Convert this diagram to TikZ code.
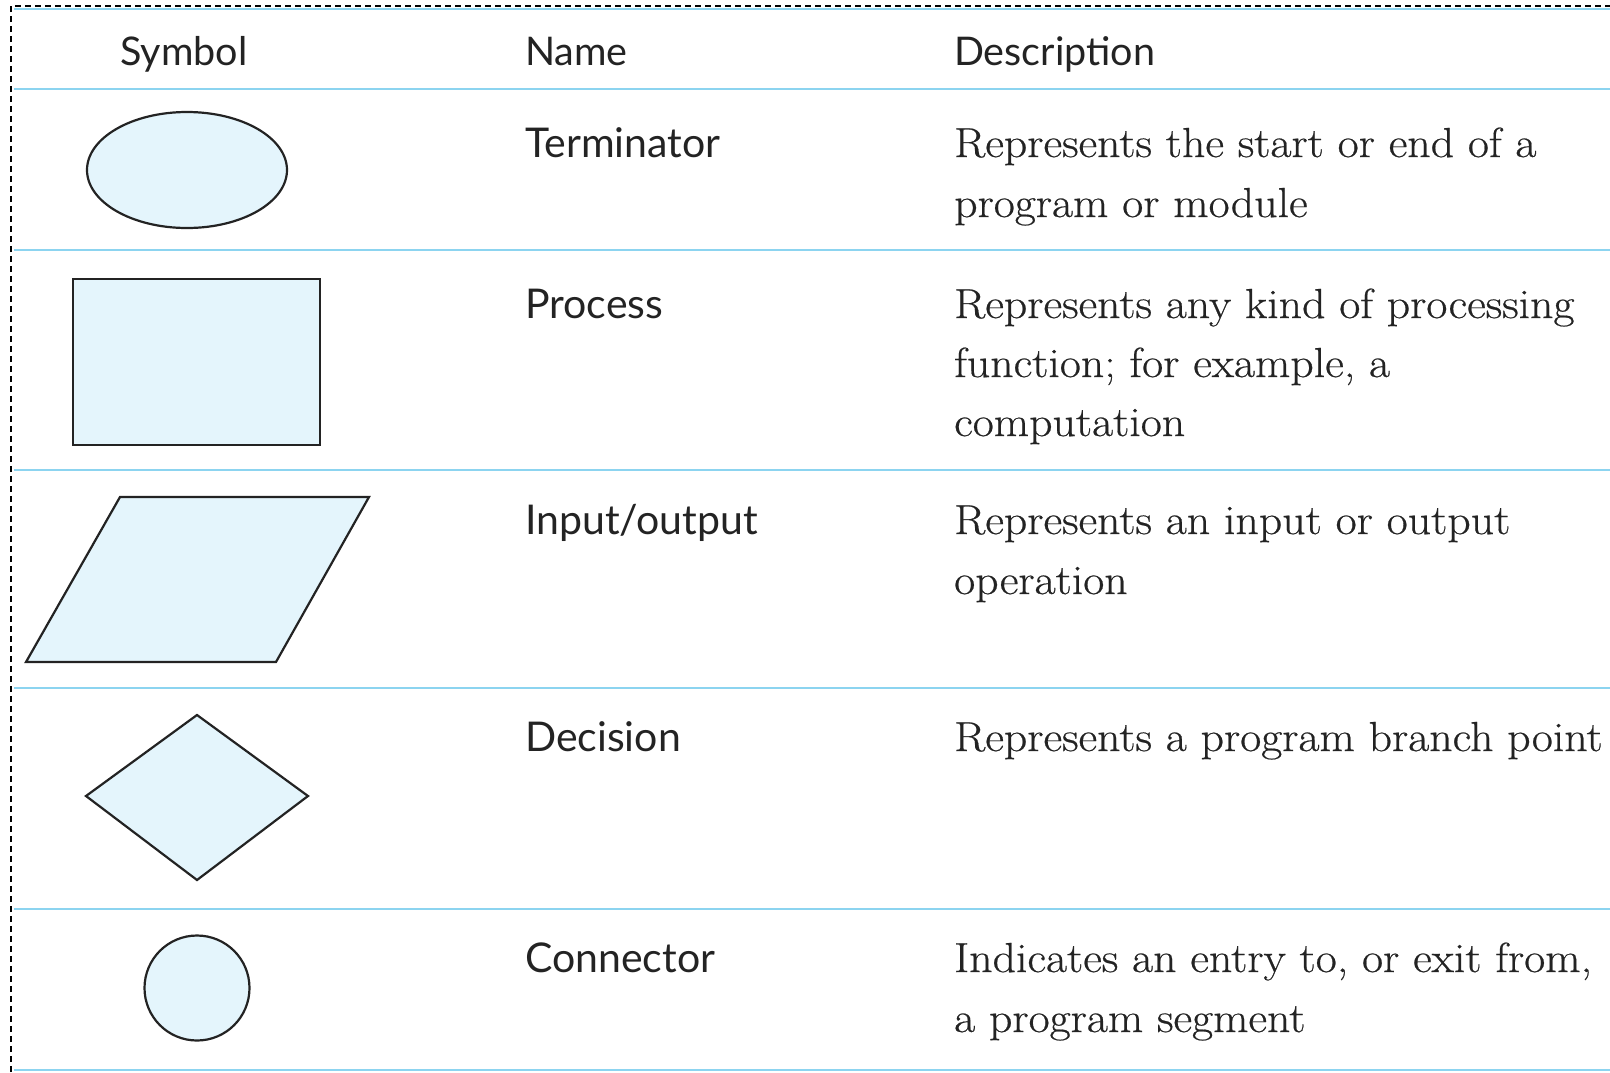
\documentclass[tikz,border=0pt]{standalone}
\usepackage{fontspec}
\newfontfamily\hdfont{Lato}
\newfontfamily\descfont{Latin Modern Roman}[FakeStretch=1.09, FakeBold=0.5]
\usetikzlibrary{shapes.geometric}
\definecolor{rule}{RGB}{140,212,240}
\definecolor{shapefill}{RGB}{228,245,252}
\definecolor{ink}{RGB}{35,35,35}
\tikzset{
  symshape/.style={draw=ink, line width=2.2pt, fill=shapefill, inner sep=0pt},
  rowrule/.style={draw=rule, line width=2.2pt},
  hdtext/.style={anchor=base west, inner sep=0pt, text=ink, font=\hdfont\fontsize{39.5}{44}\selectfont},
  nametext/.style={anchor=base west, inner sep=0pt, text=ink, font=\hdfont\fontsize{41}{44}\selectfont},
  desctext/.style={anchor=base west, inner sep=0pt, text=ink, font=\descfont\fontsize{42}{60}\selectfont},
  frame/.style={draw=black, line width=1.6pt, dash pattern=on 6pt off 4pt}
}
\begin{document}
\begin{tikzpicture}[x=1pt,y=-1pt]
\useasboundingbox (0,0) rectangle (1610,1072);
% dashed frame (top and left)
\coordinate (fl) at (11,1072);
\coordinate (fc) at (11,6);
\coordinate (fr) at (1610,6);
\draw[frame] (fl) -- (fc) -- (fr);
% horizontal rules
\foreach \yy/\nm in {9/r0,89/r1,250/r2,470/r3,688/r4,909/r5,1070/r6}{
  \coordinate (\nm a) at (14,\yy);
  \coordinate (\nm b) at (1610,\yy);
  \draw[rowrule] (\nm a) -- (\nm b);
}
% headers
\node[hdtext] (hsym) at (120,65) {Symbol};
\node[hdtext] (hname) at (525,65) {Name};
\node[hdtext] (hdesc) at (954,65) {Description};
% shapes
\node[symshape, ellipse, minimum width=200pt, minimum height=116pt] (term) at (187,170) {};
\node[symshape, rectangle, minimum width=247pt, minimum height=166pt] (proc) at (196.5,362) {};
\coordinate (p1) at (120,497);
\coordinate (p2) at (369,497);
\coordinate (p3) at (276,662);
\coordinate (p4) at (26,662);
\draw[symshape, line join=miter] (p1) -- (p2) -- (p3) -- (p4) -- cycle;
\coordinate (d1) at (197,715);
\coordinate (d2) at (308,796);
\coordinate (d3) at (197,880);
\coordinate (d4) at (86,796);
\draw[symshape, line join=miter] (d1) -- (d2) -- (d3) -- (d4) -- cycle;
\node[symshape, circle, minimum size=105pt] (conn) at (197,988) {};
% names
\node[nametext] (n1) at (525,157) {Terminator};
\node[nametext] (n2) at (525,318) {Process};
\node[nametext] (n3) at (525,534) {Input/output};
\node[nametext] (n4) at (525,751) {Decision};
\node[nametext] (n5) at (525,972) {Connector};
% descriptions
\node[desctext] (t1a) at (954,157) {Represents the start or end of a};
\node[desctext] (t1b) at (954,217) {program or module};
\node[desctext] (t2a) at (954,318) {Represents any kind of processing};
\node[desctext] (t2b) at (954,377) {function; for example, a};
\node[desctext] (t2c) at (954,436) {computation};
\node[desctext] (t3a) at (954,534) {Represents an input or output};
\node[desctext] (t3b) at (954,594) {operation};
\node[desctext] (t4a) at (954,751) {Represents a program branch point};
\node[desctext] (t5a) at (954,972) {Indicates an entry to, or exit from,};
\node[desctext] (t5b) at (954,1032) {a program segment};
\end{tikzpicture}
\end{document}
